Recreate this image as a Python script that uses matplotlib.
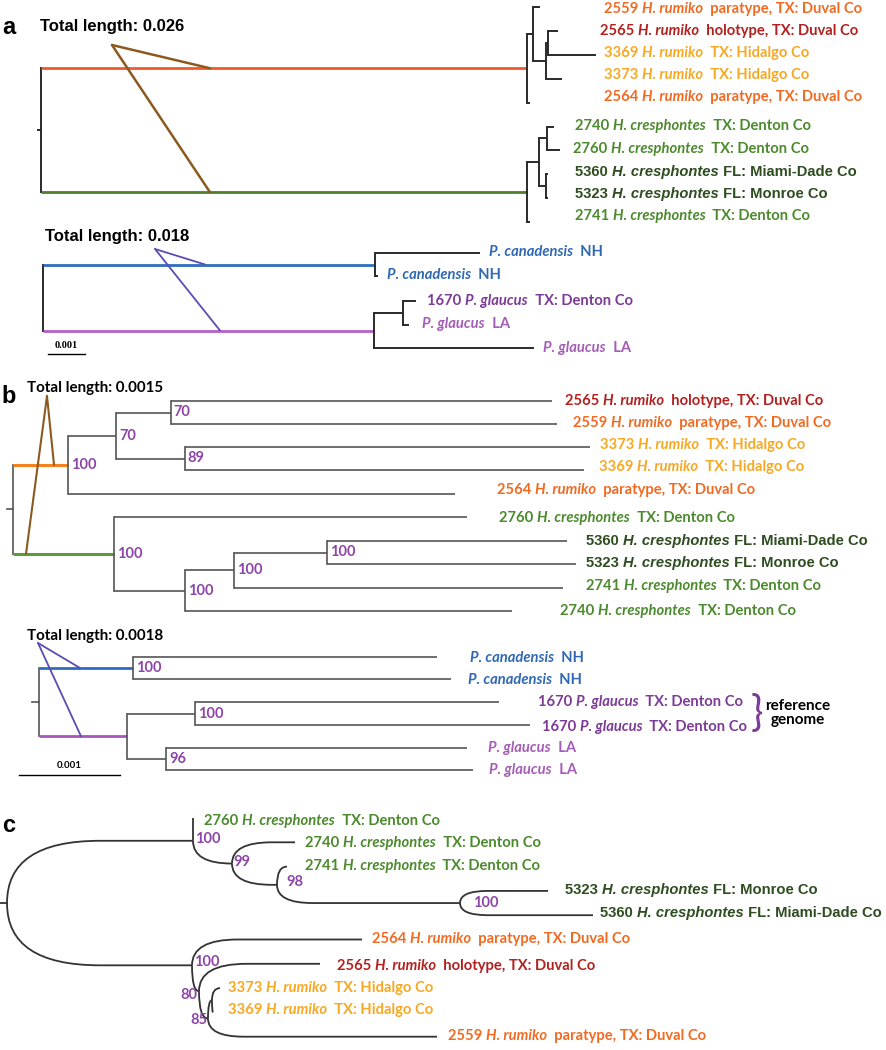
import re
import matplotlib
matplotlib.use("Agg")
import matplotlib.pyplot as plt
from matplotlib import font_manager as fm
from matplotlib.path import Path
from matplotlib.patches import PathPatch

W, H = 887, 1050

# ---------------- data ----------------
# newick trees: branch lengths in substitutions/site, internal labels = bootstrap support
tree_a_heraclides = ("(((2559:0.00019,((2565:0.00027,3369:0.00129):0.00005,3373:0.00043):0.00035):0.00016,"
                     "2564:0.00008):0.01306,(((2740:0.00019,2760:0.00035):0.00022,(5360:0.00005,5323:0.00005)"
                     ":0.00019):0.00032,2741:0.00008):0.01306);")
tree_a_pterourus = "((can:0.00282,can:0.00008):0.00892,((1670:0.00035,LA:0.00016):0.00078,LA:0.0043):0.0089);"
tree_b_heraclides = ("((((2565:0.00378,2559:0.00383)70:0.00054,(3373:0.00401,3369:0.00395)89:0.00068)70:0.00048,"
                     "2564:0.00384)100:0.00054,(2760:0.0035,(((5360:0.00238,5323:0.00246)100:0.00092,"
                     "2741:0.00326)100:0.00049,2740:0.00324)100:0.0007)100:0.001);")
tree_b_pterourus = ("((can:0.00301,can:0.00315)100:0.00093,((1670:0.00301,1670:0.00332)100:0.00067,"
                    "(LA:0.00298,LA:0.00304)96:0.00039):0.00087);")
tree_c_heraclides = ("((2760:0,(2740:0.00063,(2741:0.0001,(5323:0.00088,5360:0.00133)100:0.00183)98:0.00045)99:0.00039)"
                     "100:0.00186,(2564:0.0017,(2565:0.00121,((3373:0.00008,3369:0.00001):0.00004,2559:0.00229)85:0.00009)"
                     "80:0.00007)100:0.00185);")

total_len = ["0.026", "0.018", "0.0015", "0.0018"]
scale_bar = 0.001

ORANGE, HOLO, HIDALGO = "#F26A21", "#B3211F", "#F7A823"
TXGREEN, FLGREEN = "#4B8A2D", "#2E4D20"
BLUE, PURPLE, LILAC = "#2F68B5", "#7D3A97", "#A55DB8"
BOOT = "#8E45A8"

spec_no = {"2559": "2559 ", "2564": "2564 ", "2565": "2565 ", "3369": "3369 ", "3373": "3373 ",
           "2740": "2740 ", "2741": "2741 ", "2760": "2760 ", "5360": "5360 ", "5323": "5323 ",
           "1670": "1670 ", "can": "", "LA": ""}
spec_species = {"2559": "H. rumiko", "2564": "H. rumiko", "2565": "H. rumiko", "3369": "H. rumiko",
                "3373": "H. rumiko", "2740": "H. cresphontes", "2741": "H. cresphontes",
                "2760": "H. cresphontes", "5360": "H. cresphontes", "5323": "H. cresphontes",
                "1670": "P. glaucus", "can": "P. canadensis", "LA": "P. glaucus"}
spec_place = {"2559": "  paratype, TX: Duval Co", "2564": "  paratype, TX: Duval Co",
              "2565": "  holotype, TX: Duval Co", "3369": "  TX: Hidalgo Co", "3373": "  TX: Hidalgo Co",
              "2740": "  TX: Denton Co", "2741": "  TX: Denton Co", "2760": "  TX: Denton Co",
              "5360": " FL: Miami-Dade Co", "5323": " FL: Monroe Co", "1670": "  TX: Denton Co",
              "can": "  NH", "LA": "  LA"}
spec_color = {"2559": ORANGE, "2564": ORANGE, "2565": HOLO, "3369": HIDALGO, "3373": HIDALGO,
              "2740": TXGREEN, "2741": TXGREEN, "2760": TXGREEN, "5360": FLGREEN, "5323": FLGREEN,
              "1670": PURPLE, "can": BLUE, "LA": LILAC}
LABEL_FONT = "Lato"
ARIAL = "Liberation Sans"
spec_font = {"5360": ARIAL, "5323": ARIAL}

# bold italic face for species names (fall back if Lato has none)
_bi = fm.findfont(fm.FontProperties(family=LABEL_FONT, style="italic", weight="bold"))
ITALIC_FONT = LABEL_FONT if ("Bold" in _bi and "Italic" in _bi) else "Open Sans"
LABEL_FS = 10.6

# ---------------- layout ----------------
panels = [
    dict(tree=tree_a_heraclides, x0=41, scale=37200, style="rect",
         tip_y=[7, 31, 54.8, 78.7, 102.6, 126.5, 150.4, 174.3, 198.2, 222.1],
         label_x=[604, 600, 604, 604, 604, 575, 573, 575, 575, 575],
         label_y=[9, 31, 53, 75, 97, 126, 149, 172, 194, 216],
         root_colors=["#F0592A", "#4F7F2C"], root_lw=2.0, lw=1.4, color="#2a2a2a", stub=3,
         total=dict(text=total_len[0], x=40, y=26, font=ARIAL, fs=12, color="#8B5A1E",
                    apex=(112, 45), ends=[210, 210], lw=1.8)),
    dict(tree=tree_a_pterourus, x0=43, scale=37200, style="rect",
         tip_y=[253, 276, 301, 325, 348],
         label_x=[489, 387, 427, 422, 543],
         label_y=[252, 275, 301, 324, 348],
         root_colors=["#2F6DC0", "#B55FC8"], root_lw=2.0, lw=1.4, color="#2a2a2a", stub=0,
         total=dict(text=total_len[1], x=45, y=237, font=ARIAL, fs=12, color="#5A4DB2",
                    apex=(155, 249), ends=[205, 220], lw=1.3)),
    dict(tree=tree_b_heraclides, x0=13, scale=101000, style="rect",
         tip_y=[401, 424, 447, 470, 494, 517, 541, 564, 588, 611],
         label_x=[565, 573, 600, 599, 497, 499, 586, 586, 586, 560],
         label_y=[401, 423, 445, 467, 490, 518, 541, 563, 586, 611],
         root_colors=["#F58220", "#5E9A35"], root_lw=2.2, lw=1.2, color="#555555", stub=6,
         total=dict(text=total_len[2], x=27, y=388, font=LABEL_FONT, fs=10.9, color="#8B5A1E",
                    apex=(47, 396), ends=[54, 26], lw=1.5)),
    dict(tree=tree_b_pterourus, x0=39, scale=101000, style="rect",
         tip_y=[657, 679, 702, 725, 748, 770],
         label_x=[470, 468, 538, 542, 488, 489],
         label_y=[658, 680, 702, 727, 748, 770],
         root_colors=["#2F6BC4", "#A855C0"], root_lw=2.0, lw=1.2, color="#555555", stub=7,
         total=dict(text=total_len[3], x=27, y=636, font=LABEL_FONT, fs=10.9, color="#5A4DB2",
                    apex=(38, 643), ends=[80, 81], lw=1.3)),
    dict(tree=tree_c_heraclides, x0=7, scale=100000, style="curved",
         tip_y=[818 + 24.3 * i for i in range(10)],
         label_x=[204, 305, 305, 565, 600, 372, 337, 228, 228, 448],
         label_y=[821, 843, 866, 890, 913, 939, 966, 988, 1010, 1036],
         root_colors=None, root_lw=1.3, lw=1.3, color="#333333", stub=7,
         boot_off=[(2, -2, "left"), (1, -2, "left"), (9, -3, "left"), (13, 0, "left"),
                   (2, -3, "left"), (-2, 4, "right"), (-1, 2, "right")],
         total=None),
]


def parse_newick(s):
    s = s.strip().rstrip(";")
    pos = 0

    def node():
        nonlocal pos
        kids = []
        if s[pos] == "(":
            pos += 1
            kids.append(node())
            while s[pos] == ",":
                pos += 1
                kids.append(node())
            pos += 1
        m = re.match(r"([^:,();]*)(?::([0-9.eE-]+))?", s[pos:])
        pos += m.end()
        return {"name": m.group(1), "len": float(m.group(2) or 0), "children": kids}

    return node()


def place(tree, tip_y):
    tips, inner = [], []

    def walk(n, x):
        n["x"] = x + n["len"]
        if not n["children"]:
            n["y"] = tip_y[len(tips)]
            tips.append(n)
            return
        inner.append(n)
        for c in n["children"]:
            walk(c, n["x"])
        n["y"] = (n["children"][0]["y"] + n["children"][-1]["y"]) / 2

    tree["len"] = 0
    walk(tree, 0.0)
    return tips, inner


def draw_rect(ax, n, p):
    if not n["children"]:
        return
    ys = [c["y"] for c in n["children"]]
    ax.plot([n["x"], n["x"]], [min(ys), max(ys)], color=p["color"], lw=p["lw"], solid_capstyle="projecting")
    for c in n["children"]:
        ax.plot([n["x"], c["x"]], [c["y"], c["y"]], color=c.get("color", p["color"]),
                lw=c.get("lw", p["lw"]), solid_capstyle="butt")
        draw_rect(ax, c, p)


def draw_curved(ax, n, p):
    for c in n["children"]:
        dx_px = (c["x"] - n["x"]) * p["scale"]
        rx = min(dx_px, 1.3 * abs(c["y"] - n["y"]) + 12) / p["scale"]
        verts = [(n["x"], n["y"]), (n["x"], c["y"]), (n["x"] + rx, c["y"]), (c["x"], c["y"])]
        codes = [Path.MOVETO, Path.CURVE3, Path.CURVE3, Path.LINETO]
        ax.add_patch(PathPatch(Path(verts, codes), fill=False, ec=p["color"], lw=p["lw"]))
        draw_curved(ax, c, p)


def put_label(ax, x, y, key, fs=LABEL_FS):
    fam = spec_font.get(key, LABEL_FONT)
    prev = None
    for txt, style in [(spec_no[key], "normal"), (spec_species[key], "italic"), (spec_place[key], "normal")]:
        if not txt:
            continue
        f = fam if (style == "normal" or fam == ARIAL) else ITALIC_FONT
        kw = dict(color=spec_color[key], fontsize=fs, fontweight="bold", fontstyle=style, family=f)
        if prev is None:
            prev = ax.text(x, y, txt, va="center", ha="left", **kw)
        else:
            prev = ax.annotate(txt, xy=(1, 0), xycoords=prev, va="bottom", ha="left", **kw)


fig = plt.figure(figsize=(W / 100, H / 100), dpi=100)

for p in panels:
    ax = fig.add_axes([0, 0, 1, 1])
    ax.axis("off")
    to_x = lambda px, p=p: (px - p["x0"]) / p["scale"]
    ax.set_xlim(to_x(0), to_x(W))
    ax.set_ylim(H, 0)

    root = parse_newick(p["tree"])
    tips, inner = place(root, p["tip_y"])
    if p["root_colors"]:
        for c, col in zip(root["children"], p["root_colors"]):
            c["color"], c["lw"] = col, p["root_lw"]

    if p["style"] == "rect":
        draw_rect(ax, root, p)
    else:
        draw_curved(ax, root, p)
    if p["stub"]:
        ax.plot([to_x(p["x0"] - p["stub"]), 0], [root["y"], root["y"]], color=p["color"], lw=p["lw"])

    for t, lx, ly in zip(tips, p["label_x"], p["label_y"]):
        put_label(ax, to_x(lx), ly, t["name"])

    offs = p.get("boot_off")
    supported = [n for n in inner if n["name"]]
    for i, n in enumerate(supported):
        dx, dy, ha = offs[i] if offs else (3, 0, "left")
        ax.annotate(n["name"], xy=(n["x"], n["y"]), xytext=(dx, -dy), textcoords="offset pixels",
                    ha=ha, va="center", color=BOOT, fontsize=10.5, fontweight="bold", family=LABEL_FONT)

    tot = p["total"]
    if tot:
        ax.text(to_x(tot["x"]), tot["y"], "Total length: " + tot["text"], ha="left", va="center",
                fontsize=tot["fs"], fontweight="bold", family=tot["font"], color="black")
        ax_, ay_ = tot["apex"]
        for c, ex in zip(root["children"], tot["ends"]):
            ax.plot([to_x(ax_), to_x(ex)], [ay_, c["y"]], color=tot["color"], lw=tot["lw"],
                    solid_capstyle="round", zorder=3)

    if p is panels[1]:
        sb_x = to_x(48)
        ax.plot([sb_x, sb_x + scale_bar], [354, 354], color="black", lw=1.0)
        ax.text(sb_x + scale_bar / 2, 346, "0.001", ha="center", va="center", fontsize=7.5,
                fontweight="bold", family="Liberation Serif")
    if p is panels[3]:
        sb_x = to_x(19)
        ax.plot([sb_x, sb_x + scale_bar], [775, 775], color="black", lw=1.0)
        ax.text(sb_x + scale_bar / 2, 766, "0.001", ha="center", va="center", fontsize=7,
                fontweight="bold", family=LABEL_FONT)
        ax.text(to_x(757), 713, "}", ha="center", va="center", fontsize=30, color=PURPLE, family=LABEL_FONT)
        ax.text(to_x(798), 713, "reference\ngenome", ha="center", va="center", fontsize=11,
                fontweight="bold", family=LABEL_FONT, linespacing=1.0)

for letter, (lx, ly) in zip("abc", [(9, 27), (9, 396), (9, 825)]):
    fig.text(lx / W, 1 - ly / H, letter, ha="center", va="center", fontsize=17,
             fontweight="bold", family=ARIAL)

fig.savefig("out.png", dpi=100, facecolor="white")
